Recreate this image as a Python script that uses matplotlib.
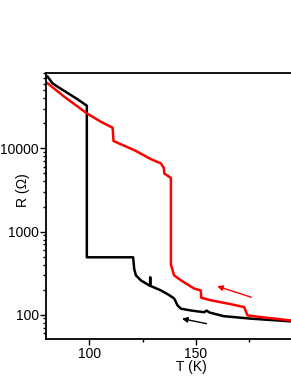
import matplotlib
matplotlib.use('Agg')
import matplotlib.pyplot as plt
from matplotlib.ticker import LogLocator, FixedLocator, NullFormatter

plt.rcParams['font.family'] = ['Liberation Sans', 'DejaVu Sans']

# cooling curve (black)
T_cool = [80.5, 82.8, 85.2, 94.6, 98.9, 98.9, 120.6, 121.1, 121.9, 124.2, 128.5, 128.6, 128.7,
          133.6, 137.0, 139.8, 141.4, 143.0, 148.0, 153.9, 155.0, 156.5, 163.0, 175.8, 195.0, 215.0]
R_cool = [73000, 60700, 55200, 38900, 32600, 490, 490, 355, 297, 259, 222, 282, 222,
          196, 175, 157, 129.5, 118, 112, 107, 112, 106, 96, 89.6, 83, 79]

# warming curve (red)
T_warm = [80.5, 88.3, 98.9, 105.5, 111.0, 111.4, 121.1, 128.9, 133.6, 135.0, 135.2, 138.0,
          138.3, 138.3, 139.1, 139.8, 143.0, 149.2, 152.3, 152.5, 157.0, 165.0, 172.6, 174.2,
          180.5, 194.5, 215.0]
R_warm = [60700, 41900, 26400, 20900, 17700, 12250, 9540, 7430, 6600, 5800, 5000, 4470,
          4400, 400, 342, 297, 259, 206, 196, 160, 149, 136, 123.5, 98, 93.6, 85.3, 81]

fig = plt.figure(figsize=(2.91, 3.76), dpi=100)
ax = fig.add_axes([46.5 / 291, 1 - 339 / 376, 290.2 / 291, (339 - 73.3) / 376])

ax.plot(T_cool, R_cool, color='black', lw=1.8)
ax.plot(T_warm, R_warm, color='#ff0000', lw=1.8)

ax.annotate('', xy=(160.0, 220), xytext=(176.0, 162),
            arrowprops=dict(arrowstyle='-|>', color='#ff0000', lw=1.0, mutation_scale=8,
                            shrinkA=0, shrinkB=0))
ax.annotate('', xy=(143.5, 89.6), xytext=(155.0, 78),
            arrowprops=dict(arrowstyle='-|>', color='black', lw=1.0, mutation_scale=8,
                            shrinkA=0, shrinkB=0))

ax.set_yscale('log')
ax.set_xlim(80, 216)
ax.set_ylim(51, 80000)

ax.set_yticks([100, 1000, 10000])
ax.set_yticklabels(['100', '1000', '10000'])
ax.yaxis.set_minor_locator(LogLocator(base=10, subs=range(2, 10)))
ax.yaxis.set_minor_formatter(NullFormatter())
ax.set_xticks([100, 150, 200])
ax.xaxis.set_minor_locator(FixedLocator([125, 175]))

ax.tick_params(which='major', direction='out', length=4, width=1, labelsize=10, pad=1.5)
ax.tick_params(which='minor', direction='out', length=2.5, width=1)
for s in ax.spines.values():
    s.set_linewidth(1.3)

ax.set_xlabel('T (K)', fontsize=10)
ax.set_ylabel('R (\u03a9)', fontsize=10)
ax.xaxis.set_label_coords(0.5, -(367.5 - 339) / 265.7)
ax.yaxis.set_label_coords(-(46.5 - 23) / 290.2, (339 - 190) / 265.7)
ax.xaxis.label.set_va('center')
ax.yaxis.label.set_va('center')

fig.savefig('out.png', dpi=100)
